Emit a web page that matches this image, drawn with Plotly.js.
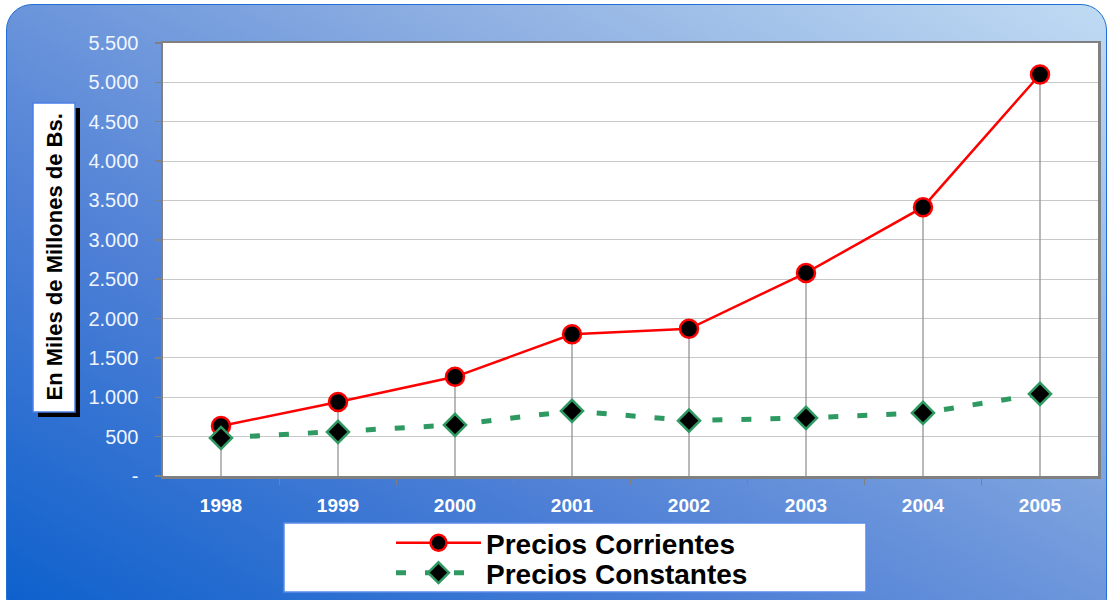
<!DOCTYPE html>
<html>
<head>
<meta charset="utf-8">
<script src="https://cdn.plot.ly/plotly-3.0.1.min.js"></script>
<style>
  html, body { margin: 0; padding: 0; background: #ffffff; width: 1110px; height: 600px; overflow: hidden; }
  #bg {
    position: absolute; left: 6px; top: 4px; width: 1101px; height: 620px;
    border: 1.5px solid #1f6fd6; border-radius: 26px;
    background: linear-gradient(to top right, #0a5fcc 0%, #4f80d6 35%, #8badE1 68%, #c0dbf3 100%);
    box-sizing: border-box;
  }
  #chart { position: absolute; left: 0; top: 0; width: 1110px; height: 600px; }
</style>
</head>
<body>
<div id="bg"></div>
<div id="chart"></div>
<script>
const years = ['1998', '1999', '2000', '2001', '2002', '2003', '2004', '2005'];
const preciosCorrientes = [636, 941, 1260, 1800, 1870, 2580, 3415, 5100];
const preciosConstantes = [483, 560, 649, 827, 703, 738, 801, 1043];
const yTickVals = [0, 500, 1000, 1500, 2000, 2500, 3000, 3500, 4000, 4500, 5000, 5500];
const yTickText = ['-', '500', '1.000', '1.500', '2.000', '2.500', '3.000', '3.500', '4.000', '4.500', '5.000', '5.500'];
const seriesNames = ['Precios Corrientes', 'Precios Constantes'];
const yTitle = 'En Miles de Millones de Bs.';

const FONT = 'Arial, "Liberation Sans", sans-serif';

const traces = [
  {
    x: years, y: preciosCorrientes, name: seriesNames[0], type: 'scatter', mode: 'lines+markers',
    legend: 'legend',
    line: { color: '#ff0000', width: 2.5 },
    marker: { symbol: 'circle', size: 18, color: '#000000', line: { color: '#ff0000', width: 2.5 } },
    error_y: { type: 'data', symmetric: false, array: preciosCorrientes.map(() => 0), arrayminus: preciosCorrientes, width: 0, thickness: 1.2, color: '#8a8a8a' },
    hoverinfo: 'skip'
  },
  {
    x: years, y: preciosConstantes, name: seriesNames[1], type: 'scatter', mode: 'lines+markers',
    legend: 'legend2',
    line: { color: '#2e9a62', width: 5, dash: '10px,19px' },
    marker: { symbol: 'diamond', size: 17, color: '#000000', line: { color: '#2e9a62', width: 2.5 } },
    hoverinfo: 'skip'
  }
];

const px2x = px => (px - 163) / 935;
const px2y = py => (476 - py) / 433;

const legendBase = {
  x: px2x(391), xanchor: 'left', yanchor: 'middle',
  bgcolor: 'rgba(0,0,0,0)', borderwidth: 0,
  font: { family: FONT, size: 28, color: '#000000', weight: 'bold' },
  itemwidth: 85
};

const layout = {
  width: 1110, height: 600,
  margin: { l: 163, r: 12, t: 43, b: 124, autoexpand: false },
  paper_bgcolor: 'rgba(0,0,0,0)',
  plot_bgcolor: '#ffffff',
  font: { family: FONT },
  showlegend: true,
  xaxis: {
    type: 'category', tickson: 'boundaries', ticks: 'outside', ticklen: 6, tickcolor: '#808080', tickwidth: 1.5,
    showline: true, linecolor: '#808080', linewidth: 2.5, mirror: true, showgrid: false,
    tickfont: { family: FONT, size: 19, color: '#ffffff', weight: 'bold' },
    ticklabelstandoff: 11, fixedrange: true, automargin: false
  },
  yaxis: {
    range: [0, 5500], tickvals: yTickVals, ticktext: yTickText,
    ticks: 'outside', ticklen: 6, tickcolor: '#808080', tickwidth: 1.5,
    showline: true, linecolor: '#808080', linewidth: 2.5, mirror: true,
    showgrid: true, gridcolor: '#c8c8c8', gridwidth: 1, zeroline: false,
    tickfont: { family: FONT, size: 20, color: '#f0f5ff' },
    ticklabelstandoff: 12, fixedrange: true, automargin: false
  },
  legend: Object.assign({}, legendBase, { y: px2y(543) }),
  legend2: Object.assign({}, legendBase, { y: px2y(573) }),
  shapes: [
    { type: 'rect', xref: 'paper', yref: 'paper', x0: px2x(284), x1: px2x(866), y0: px2y(592), y1: px2y(523),
      fillcolor: '#ffffff', line: { color: '#5a8ae8', width: 1.5 }, layer: 'above' },
    { type: 'rect', xref: 'paper', yref: 'paper', x0: px2x(38), x1: px2x(80), y0: px2y(417), y1: px2y(108),
      fillcolor: '#000000', line: { width: 0 }, layer: 'above' },
    { type: 'rect', xref: 'paper', yref: 'paper', x0: px2x(33), x1: px2x(75), y0: px2y(412), y1: px2y(103),
      fillcolor: '#ffffff', line: { color: '#4a7fe8', width: 1.5 }, layer: 'above' }
  ],
  annotations: [
    { text: yTitle, xref: 'paper', yref: 'paper', x: px2x(54), y: px2y(257.5), xanchor: 'center', yanchor: 'middle',
      textangle: -90, showarrow: false, font: { family: FONT, size: 22, color: '#000000', weight: 'bold' } }
  ]
};

Plotly.newPlot('chart', traces, layout, { displayModeBar: false, staticPlot: true });
</script>
</body>
</html>
